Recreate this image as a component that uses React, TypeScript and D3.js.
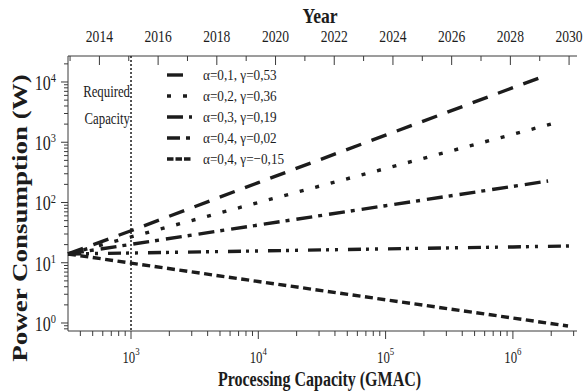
import React from "react";
import * as d3 from "d3";

// ---- data ----
const legendLabels = [
  "α=0,1, γ=0,53",
  "α=0,2, γ=0,36",
  "α=0,3, γ=0,19",
  "α=0,4, γ=0,02",
  "α=0,4, γ=−0,15",
];
const cap1 = [320, 1e3, 1e4, 1e5, 1e6, 1.85e6];
const pow1 = [14, 34, 214, 1310, 8040, 13000];
const cap2 = [320, 1e3, 1e4, 1e5, 1e6, 2.14e6];
const pow2 = [14, 26.8, 100, 367, 1355, 2090];
const cap3 = [320, 1e3, 1e4, 1e5, 1e6, 1.89e6];
const pow3 = [14, 20.2, 42.3, 88.5, 185, 227];
const cap4 = [320, 1e3, 1e4, 1e5, 1e6, 2.81e6];
const pow4 = [14, 14.5, 15.7, 17, 18.3, 19];
const cap5 = [320, 1e3, 1e4, 1e5, 1e6, 2.71e6];
const pow5 = [14, 9.87, 4.88, 2.43, 1.21, 0.89];
const requiredCapacity = 1e3;
const xMajorTicks = [1e3, 1e4, 1e5, 1e6];
const xTickExp = ["3", "4", "5", "6"];
const yMajorTicks = [1, 10, 100, 1000, 10000];
const yTickExp = ["0", "1", "2", "3", "4"];
const yearTicks = [2014, 2016, 2018, 2020, 2022, 2024, 2026, 2028, 2030];

const dashes = ["16,11", "4,12", "16,6,4,7", "13,5,3,6,3,10", "8,4.5"];
const legendDashes = ["16,11", "4,12", "16,6,4,7", "13,6,4,8", "6.5,2"];

const FONT = "'Liberation Serif', 'Times New Roman', Times, serif";
const INK = "#1c1c1c";
const AX = "#3a3a3a";

const W = 585;
const H = 392;
const L = 68, R = 577, T = 56, B = 331;

function Txt(props: any) {
  const { x, y, size, anchor = "start", bold = false, sx = 0.8, rot = false, children } = props;
  return (
    <text
      transform={`translate(${x},${y}) scale(${sx},1)${rot ? " rotate(-90)" : ""}`}
      fontFamily={FONT}
      fontSize={size}
      fontWeight={bold ? "bold" : "normal"}
      textAnchor={anchor}
      fill={INK}
    >
      {children}
    </text>
  );
}

export default function App() {
  const x = d3.scaleLog().domain([Math.pow(10, 2.505), Math.pow(10, 6.5035)]).range([L, R]);
  const y = d3.scaleLog().domain([Math.pow(10, -0.1328), Math.pow(10, 4.4315)]).range([B, T]);
  const yr = d3.scaleLinear().domain([2012.93, 2030.27]).range([L, R]);

  const caps = [cap1, cap2, cap3, cap4, cap5];
  const pows = [pow1, pow2, pow3, pow4, pow5];
  const line = d3
    .line<[number, number]>()
    .x((d) => x(d[0]))
    .y((d) => y(d[1]));

  const xMinor: number[] = [];
  for (let e = 2; e <= 6; e++) {
    for (let k = 1; k <= 9; k++) {
      const v = k * Math.pow(10, e);
      const [a, b] = x.domain();
      if (v >= a && v <= b) xMinor.push(v);
    }
  }
  const yMinor: number[] = [];
  for (let e = -1; e <= 4; e++) {
    for (let k = 1; k <= 9; k++) {
      const v = k * Math.pow(10, e);
      const [a, b] = y.domain();
      if (v >= a && v <= b) yMinor.push(v);
    }
  }
  const yearMinor = d3.range(2013, 2031);

  const legendY = [75, 96, 117, 138, 159];
  const legX0 = 167, legX1 = 192;

  return (
    <svg width={W} height={H} style={{ position: "absolute", left: 0, top: 0, background: "#fff" }}>
      <rect x={0} y={0} width={W} height={H} fill="#fff" />
      {/* axes lines */}
      <line x1={L} x2={R} y1={B} y2={B} stroke={AX} strokeWidth={1} />
      <line x1={L} x2={R} y1={T} y2={T} stroke={AX} strokeWidth={1} />
      <line x1={L} x2={L} y1={T} y2={B} stroke={AX} strokeWidth={1} />

      {/* bottom ticks (outward) */}
      {xMinor.map((v, i) => {
        const major = xMajorTicks.includes(v);
        return (
          <line key={"xm" + i} x1={x(v)} x2={x(v)} y1={B} y2={B + (major ? 8 : 5)} stroke={AX} strokeWidth={1} />
        );
      })}
      {xMajorTicks.map((v, i) => (
        <text key={"xl" + i} transform={`translate(${x(v)},363) scale(0.8,1)`} fontFamily={FONT} fontSize={16} textAnchor="middle" fill={INK}>
          <tspan>10</tspan>
          <tspan dy={-8} fontSize={11}>{xTickExp[i]}</tspan>
        </text>
      ))}

      {/* left ticks (outward) */}
      {yMinor.map((v, i) => {
        const major = yMajorTicks.includes(v);
        return (
          <line key={"ym" + i} x1={L - (major ? 7 : 4)} x2={L} y1={y(v)} y2={y(v)} stroke={AX} strokeWidth={1} />
        );
      })}
      {yMajorTicks.map((v, i) => (
        <text key={"yl" + i} transform={`translate(56,${y(v) + 8}) scale(0.8,1)`} fontFamily={FONT} fontSize={20} textAnchor="end" fill={INK}>
          <tspan>10</tspan>
          <tspan dy={-8} fontSize={13}>{yTickExp[i]}</tspan>
        </text>
      ))}

      {/* top year axis (ticks inward) */}
      {yearMinor.map((v) => {
        const major = yearTicks.includes(v);
        return (
          <line key={"yr" + v} x1={yr(v)} x2={yr(v)} y1={T} y2={T + (major ? 9 : 5)} stroke={AX} strokeWidth={1} />
        );
      })}
      {yearTicks.map((v) => (
        <Txt key={"yt" + v} x={yr(v)} y={41.5} size={17} anchor="middle">
          {String(v)}
        </Txt>
      ))}

      {/* required capacity line */}
      <line
        x1={x(requiredCapacity)}
        x2={x(requiredCapacity)}
        y1={T}
        y2={B}
        stroke={INK}
        strokeWidth={1.5}
        strokeDasharray="2,2"
      />
      <Txt x={x(requiredCapacity) - 1} y={97} size={16} anchor="end">Required</Txt>
      <Txt x={x(requiredCapacity) - 1} y={124} size={16} anchor="end">Capacity</Txt>

      {/* series */}
      {caps.map((c, i) => (
        <path
          key={"s" + i}
          d={line(c.map((v, j) => [v, pows[i][j]] as [number, number])) || ""}
          fill="none"
          stroke={INK}
          strokeWidth={3.4}
          strokeDasharray={dashes[i]}
        />
      ))}

      {/* legend */}
      {legendLabels.map((lab, i) => (
        <g key={"lg" + i}>
          <line x1={legX0} x2={legX1} y1={legendY[i]} y2={legendY[i]} stroke={INK} strokeWidth={3.4} strokeDasharray={legendDashes[i]} />
          <Txt x={203} y={legendY[i] + 4.5} size={15.5} sx={0.85}>
            {lab}
          </Txt>
        </g>
      ))}

      {/* titles */}
      <Txt x={320} y={23} size={22} anchor="middle" bold>
        Year
      </Txt>
      <Txt x={319.5} y={386} size={20} anchor="middle" bold>
        Processing Capacity (GMAC)
      </Txt>
      <Txt x={27} y={218} size={27} anchor="middle" bold rot>
        Power Consumption (W)
      </Txt>
    </svg>
  );
}
